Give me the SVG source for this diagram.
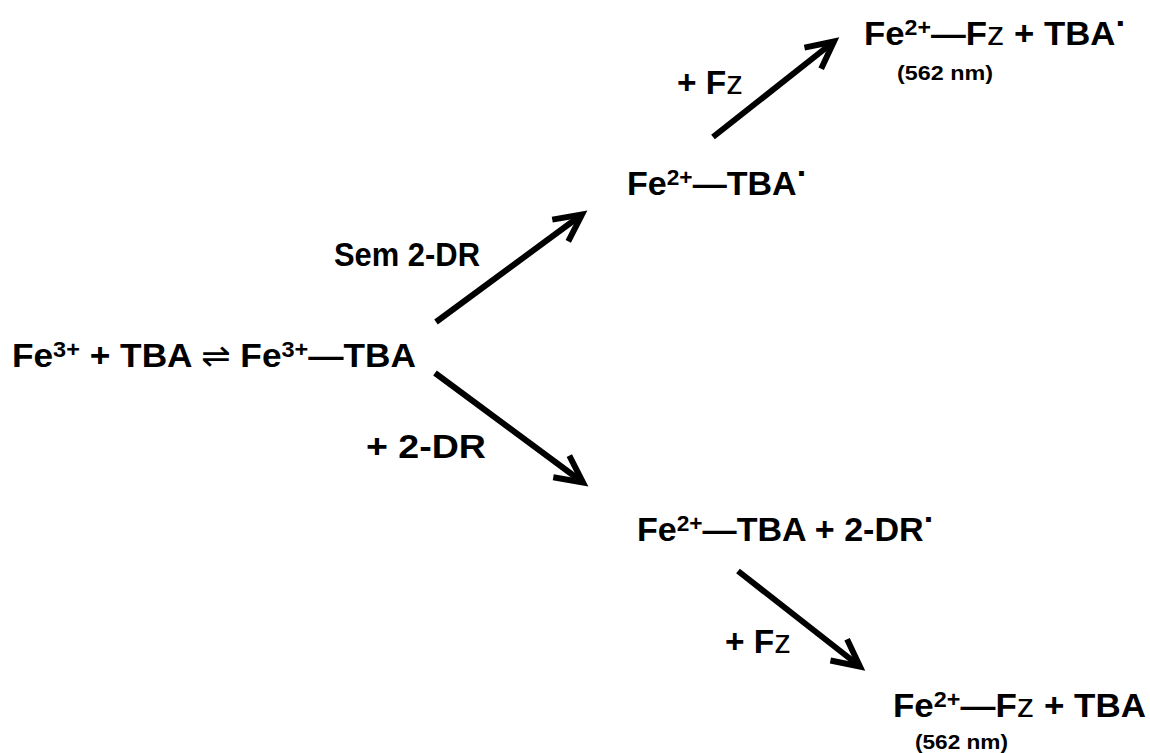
<svg xmlns="http://www.w3.org/2000/svg" width="1150" height="753" viewBox="0 0 1150 753">
  <style>
    .t { font-family: "Liberation Sans", Arial, "DejaVu Sans", sans-serif; font-weight: bold; font-size: 33px; fill: #000; }
    .s { font-size: 22px; }
    .nm { font-family: "Liberation Sans", Arial, sans-serif; font-weight: bold; font-size: 21px; fill: #000; }
    .lt { font-weight: normal; }
    .eq { font-family: "DejaVu Sans", sans-serif; font-weight: normal; }
    .arrow { stroke: #000; stroke-width: 6; fill: none; marker-end: url(#head); }
  </style>
  <defs>
    <marker id="head" markerUnits="userSpaceOnUse" orient="auto" refX="0" refY="0" markerWidth="40" markerHeight="40" overflow="visible">
      <path d="M-27,-13.5 L0,0 L-27,13.5" fill="none" stroke="#000" stroke-width="6" stroke-linejoin="miter"/>
    </marker>
  </defs>
  <rect width="1150" height="753" fill="#fff"/>

  <g id="connectors">
    <line class="arrow" x1="436" y1="322" x2="582" y2="214.5"/>
    <line class="arrow" x1="713" y1="137" x2="834" y2="41.5"/>
    <line class="arrow" x1="435" y1="373" x2="583" y2="482.5"/>
    <line class="arrow" x1="738" y1="571" x2="860" y2="666.5"/>
  </g>

  <g id="node-start">
    <text class="t" x="12" y="367" textLength="404" lengthAdjust="spacingAndGlyphs">Fe<tspan class="s" dy="-10">3+</tspan><tspan dy="10"> + TBA </tspan><tspan class="eq">⇌</tspan> Fe<tspan class="s" dy="-10">3+</tspan><tspan dy="10">—TBA</tspan></text>
  </g>

  <g id="label-sem">
    <text class="t" x="334" y="266" textLength="146" lengthAdjust="spacingAndGlyphs">Sem 2-DR</text>
  </g>

  <g id="label-2dr">
    <text class="t" x="366" y="458" textLength="120" lengthAdjust="spacingAndGlyphs">+ 2-DR</text>
  </g>

  <g id="node-fe2-tba-rad">
    <text class="t" x="627" y="195" textLength="181" lengthAdjust="spacingAndGlyphs">Fe<tspan class="s" dy="-10">2+</tspan><tspan dy="10">—TBA</tspan><tspan dy="-10">·</tspan></text>
  </g>

  <g id="label-fz-top">
    <text class="t" x="677" y="94" textLength="66" lengthAdjust="spacingAndGlyphs">+ F<tspan class="lt">z</tspan></text>
  </g>

  <g id="node-top-product">
    <text class="t" x="864" y="45" textLength="263" lengthAdjust="spacingAndGlyphs">Fe<tspan class="s" dy="-10">2+</tspan><tspan dy="10">—F</tspan><tspan class="lt">z</tspan> + TBA<tspan dy="-10">·</tspan></text>
    <text class="nm" x="897" y="80" textLength="96" lengthAdjust="spacingAndGlyphs">(562 nm)</text>
  </g>

  <g id="node-fe2-tba-2dr">
    <text class="t" x="637" y="541" textLength="298" lengthAdjust="spacingAndGlyphs">Fe<tspan class="s" dy="-10">2+</tspan><tspan dy="10">—TBA + 2-DR</tspan><tspan dy="-10">·</tspan></text>
  </g>

  <g id="label-fz-bottom">
    <text class="t" x="725" y="653" textLength="66" lengthAdjust="spacingAndGlyphs">+ F<tspan class="lt">z</tspan></text>
  </g>

  <g id="node-bottom-product">
    <text class="t" x="893" y="717" textLength="253" lengthAdjust="spacingAndGlyphs">Fe<tspan class="s" dy="-10">2+</tspan><tspan dy="10">—F</tspan><tspan class="lt">z</tspan> + TBA</text>
    <text class="nm" x="915" y="749" textLength="93" lengthAdjust="spacingAndGlyphs">(562 nm)</text>
  </g>
</svg>
